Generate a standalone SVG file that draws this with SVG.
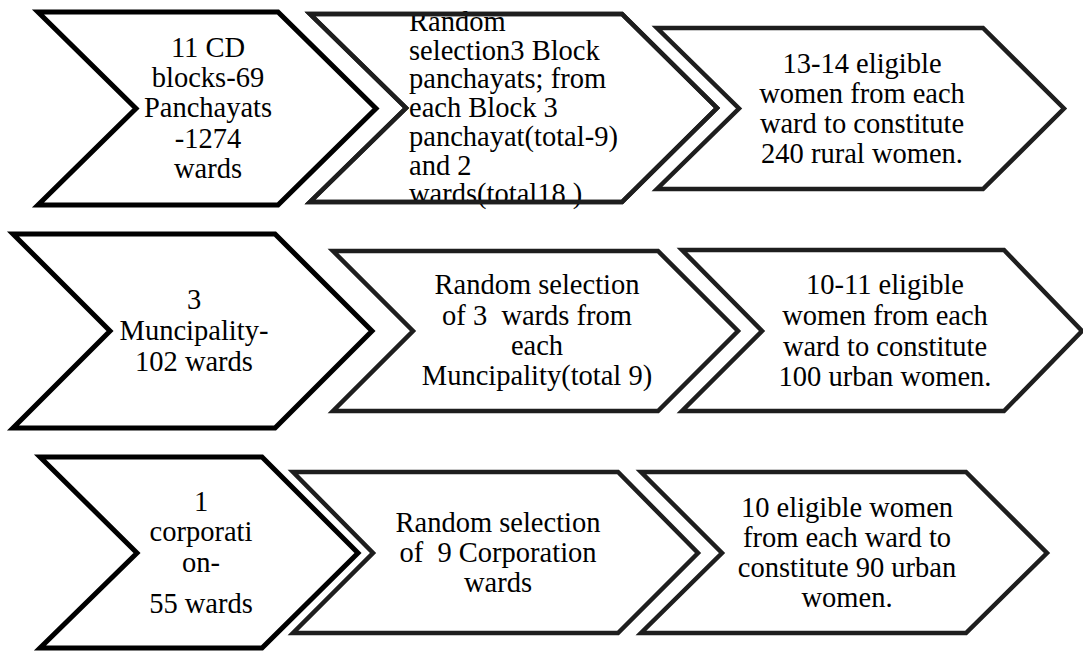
<svg xmlns="http://www.w3.org/2000/svg" width="1083" height="652" viewBox="0 0 1083 652">
<style>
.bg{fill:#ffffff}
.c1{fill:#ffffff;stroke:#000000;stroke-width:5;stroke-linejoin:miter}
.c2{fill:#ffffff;stroke:#1e1e1e;stroke-width:4.5;stroke-linejoin:miter}
.edge{fill:none;stroke:#1e1e1e;stroke-width:4.5;stroke-linejoin:miter}
text{font-family:'Liberation Serif','Times New Roman',serif;font-size:28.5px;fill:#000000}
.m{text-anchor:middle}
</style>
<rect class="bg" x="0" y="0" width="1083" height="652"/>
<g id="r1c1">
<polygon class="c1" points="38,12 278,12 376,108.5 278,205 38,205 136,108.5"/>
<text class="m"><tspan x="208" y="57">11 CD</tspan><tspan x="208" y="87">blocks-69</tspan><tspan x="208" y="117">Panchayats</tspan><tspan x="208" y="148">-1274</tspan><tspan x="208" y="178">wards</tspan></text>
</g>
<g id="r1c2">
<polygon class="c2" points="310,14 622,14 717,108 622,202 310,202 406,108"/>
<text><tspan x="409" y="31">Random</tspan><tspan x="409" y="59.5">selection3 Block</tspan><tspan x="409" y="88">panchayats; from</tspan><tspan x="409" y="117">each Block 3</tspan><tspan x="409" y="146">panchayat(total-9)</tspan><tspan x="409" y="174.5">and 2</tspan><tspan x="409" y="203">wards(total18 )</tspan></text>
<polygon class="edge" points="310,14 622,14 717,108 622,202 310,202 406,108"/>
</g>
<g id="r1c3">
<polygon class="c2" points="657,28 983,28 1064,108.5 983,189 657,189 739,108.5"/>
<text class="m"><tspan x="862" y="73">13-14 eligible</tspan><tspan x="862" y="103">women from each</tspan><tspan x="862" y="133">ward to constitute</tspan><tspan x="862" y="163">240 rural women.</tspan></text>
</g>
<g id="r2c1">
<polygon class="c1" points="13,234 275,234 372,331 275,428 13,428 110,331"/>
<text class="m"><tspan x="194" y="309">3</tspan><tspan x="194" y="340">Muncipality-</tspan><tspan x="194" y="371">102 wards</tspan></text>
</g>
<g id="r2c2">
<polygon class="c2" points="333,251 658,251 738,331 658,411 333,411 413,331"/>
<text class="m" xml:space="preserve"><tspan x="537" y="294">Random selection</tspan><tspan x="537" y="325">of 3  wards from</tspan><tspan x="537" y="355">each</tspan><tspan x="537" y="385">Muncipality(total 9)</tspan></text>
</g>
<g id="r2c3">
<polygon class="c2" points="682,250 1004,250 1082,331 1004,411 682,411 762,331"/>
<text class="m"><tspan x="885" y="294">10-11 eligible</tspan><tspan x="885" y="325">women from each</tspan><tspan x="885" y="356">ward to constitute</tspan><tspan x="885" y="386">100 urban women.</tspan></text>
</g>
<g id="r3c1">
<polygon class="c1" points="40,457 262,457 358,553 262,648 40,648 137,553"/>
<text class="m"><tspan x="201" y="511">1</tspan><tspan x="201" y="541">corporati</tspan><tspan x="201" y="572">on-</tspan><tspan x="201" y="613">55 wards</tspan></text>
</g>
<g id="r3c2">
<polygon class="c2" points="293,472 618,472 698,553 618,633 293,633 373,553"/>
<text class="m" xml:space="preserve"><tspan x="498" y="532">Random selection</tspan><tspan x="498" y="562">of  9 Corporation</tspan><tspan x="498" y="592">wards</tspan></text>
</g>
<g id="r3c3">
<polygon class="c2" points="641,472 966,472 1047,553 966,633 641,633 722,553"/>
<text class="m"><tspan x="847" y="517">10 eligible women</tspan><tspan x="847" y="547">from each ward to</tspan><tspan x="847" y="577">constitute 90 urban</tspan><tspan x="847" y="607">women.</tspan></text>
</g>
</svg>
